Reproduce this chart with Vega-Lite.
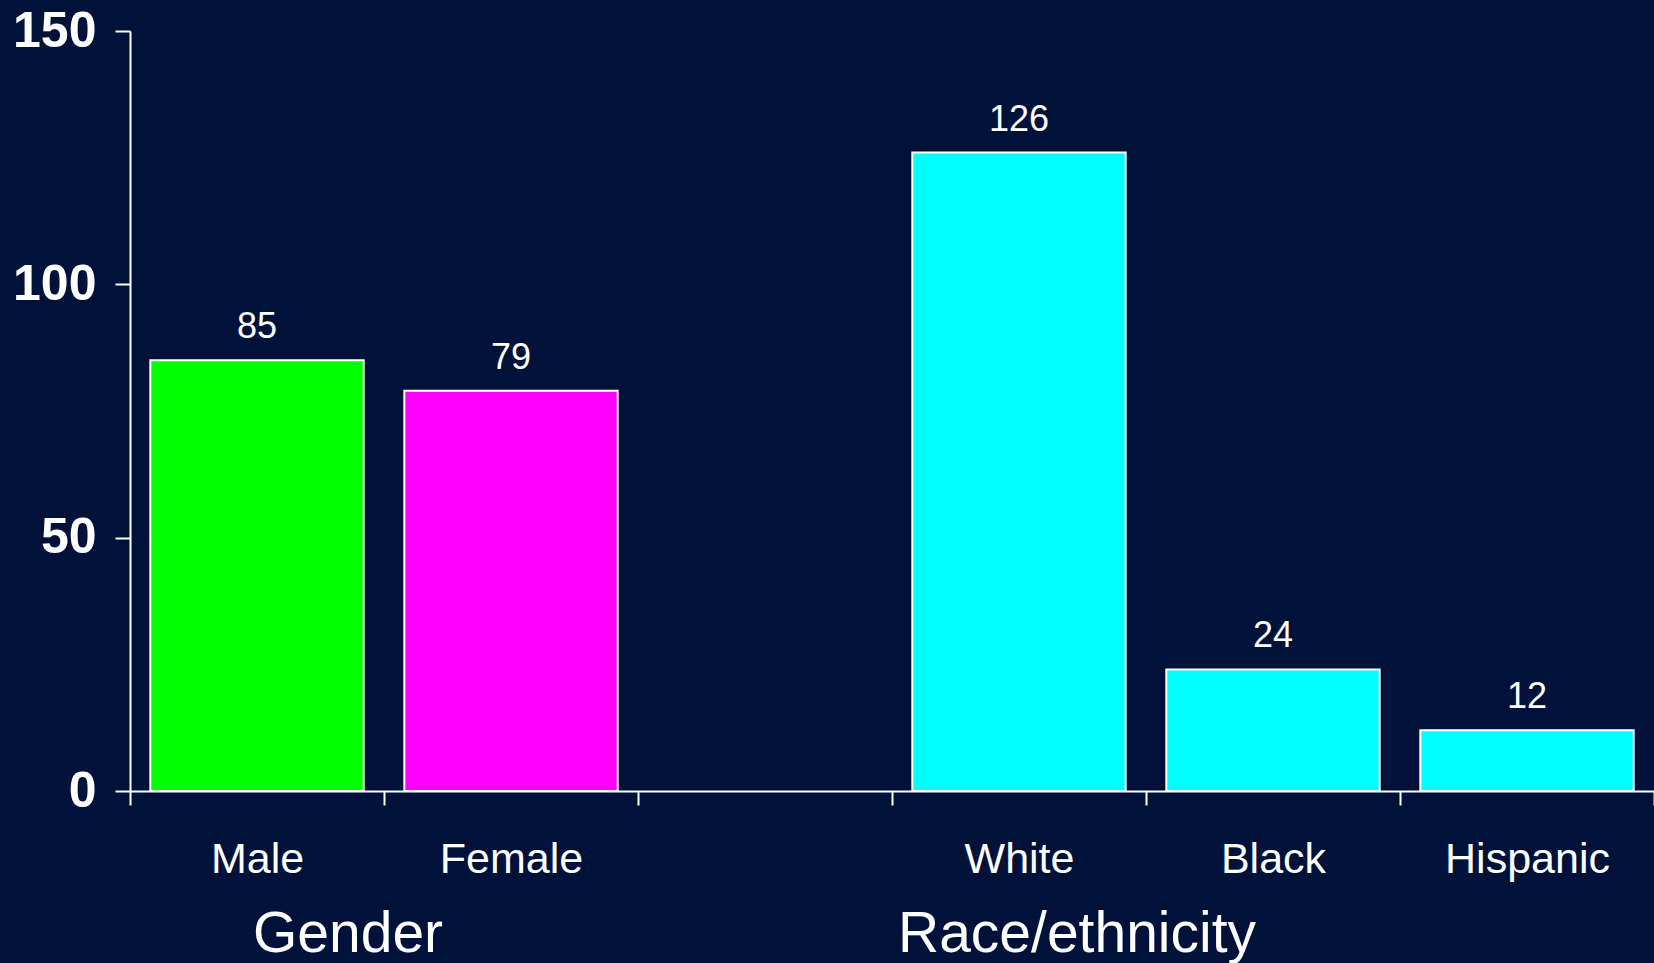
{
  "$schema": "https://vega.github.io/schema/vega-lite/v6.json",
  "width": 1524,
  "height": 760,
  "autosize": {"type": "none"},
  "padding": {"left": 130, "top": 31, "right": 0, "bottom": 172},
  "background": "#00113A",
  "config": {"view": {"stroke": null}, "font": "Liberation Sans"},
  "data": {
    "values": [
      {"category": "Male", "group": "Gender", "value": 85},
      {"category": "Female", "group": "Gender", "value": 79},
      {"category": "White", "group": "Race/ethnicity", "value": 126},
      {"category": "Black", "group": "Race/ethnicity", "value": 24},
      {"category": "Hispanic", "group": "Race/ethnicity", "value": 12}
    ]
  },
  "encoding": {
    "x": {
      "field": "category",
      "type": "nominal",
      "sort": null,
      "scale": {
        "domain": ["Male", "Female", " ", "White", "Black", "Hispanic"],
        "paddingInner": 0,
        "paddingOuter": 0
      },
      "axis": {
        "title": null,
        "domainColor": "white",
        "domainWidth": 2,
        "tickColor": "white",
        "tickWidth": 2,
        "tickSize": 14,
        "tickBand": "extent",
        "labelColor": "white",
        "labelFontSize": 43,
        "labelPadding": 67,
        "labelBaseline": "alphabetic",
        "labelAngle": 0,
        "labelFont": "Liberation Sans"
      }
    }
  },
  "layer": [
    {
      "mark": {"type": "bar", "stroke": "white", "strokeWidth": 2, "width": {"band": 0.84}},
      "encoding": {
        "y": {
          "field": "value",
          "type": "quantitative",
          "scale": {"domain": [0, 150], "nice": false},
          "axis": {
            "title": null,
            "values": [0, 50, 100, 150],
            "grid": false,
            "domainColor": "white",
            "domainWidth": 2,
            "tickColor": "white",
            "tickWidth": 2,
            "tickSize": 15,
            "labelColor": "white",
            "labelFontSize": 50,
            "labelFontWeight": "bold",
            "labelPadding": 19,
            "labelFont": "Liberation Sans"
          }
        },
        "color": {
          "field": "category",
          "type": "nominal",
          "scale": {
            "domain": ["Male", "Female", "White", "Black", "Hispanic"],
            "range": ["#00FF00", "#FF00FF", "#00FFFF", "#00FFFF", "#00FFFF"]
          },
          "legend": null
        }
      }
    },
    {
      "mark": {"type": "text", "baseline": "alphabetic", "dy": -22, "fontSize": 36, "color": "white", "font": "Liberation Sans"},
      "encoding": {
        "y": {"field": "value", "type": "quantitative"},
        "text": {"field": "value", "type": "quantitative"}
      }
    },
    {
      "transform": [{"filter": "datum.category === 'Male'"}],
      "mark": {"type": "text", "baseline": "alphabetic", "dx": 91, "fontSize": 57, "color": "white", "font": "Liberation Sans"},
      "encoding": {
        "y": {"datum": -31.8, "type": "quantitative"},
        "text": {"field": "group", "type": "nominal"}
      }
    },
    {
      "transform": [{"filter": "datum.category === 'White'"}],
      "mark": {"type": "text", "baseline": "alphabetic", "dx": 58, "fontSize": 57, "color": "white", "font": "Liberation Sans"},
      "encoding": {
        "y": {"datum": -31.8, "type": "quantitative"},
        "text": {"field": "group", "type": "nominal"}
      }
    }
  ]
}
